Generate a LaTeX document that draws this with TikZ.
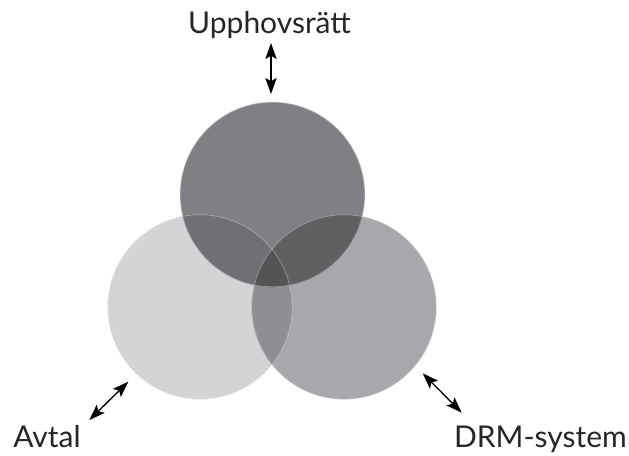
\documentclass[tikz,border=0pt]{standalone}
\usepackage{fontspec}
\setmainfont{Lato}
\usepackage{tikz}
\usetikzlibrary{arrows.meta}
\definecolor{vennTop}{HTML}{7F8083}
\definecolor{vennLeft}{HTML}{D3D4D6}
\definecolor{vennRight}{HTML}{A7A8AB}
\definecolor{vennTL}{HTML}{6F7073}
\definecolor{vennTR}{HTML}{5F6062}
\definecolor{vennLR}{HTML}{8E8F92}
\definecolor{vennAll}{HTML}{535456}

\begin{document}
\begin{tikzpicture}[x=0.75pt,y=-0.75pt,
    venn/.style={circle, minimum size=138.75pt, inner sep=0pt, outer sep=0pt},
    rim/.style={draw=white, draw opacity=0.35, line width=0.6pt},
    label/.style={font=\fontsize{22.5}{25}\selectfont, text=black!85, inner sep=0pt, anchor=base},
    dbl/.style={{Stealth[length=12pt,width=8.5pt,inset=2.5pt]}-{Stealth[length=12pt,width=8.5pt,inset=2.5pt]}, line width=1pt}]
    \useasboundingbox (0,0) rectangle (629,455);

    % The three sets
    \node[venn, fill=vennLeft] (avtal) at (200,307) {};
    \node[venn, fill=vennRight] (drm) at (344,307) {};
    \node[venn, fill=vennTop] (upph) at (272.5,194.5) {};

    % Overlaps
    \begin{scope}
        \clip (avtal.center) circle[radius=69.4pt];
        \fill[vennLR] (drm.center) circle[radius=69.4pt];
        \fill[vennTL] (upph.center) circle[radius=69.4pt];
    \end{scope}
    \begin{scope}
        \clip (drm.center) circle[radius=69.4pt];
        \fill[vennTR] (upph.center) circle[radius=69.4pt];
    \end{scope}
    \begin{scope}
        \clip (avtal.center) circle[radius=69.4pt];
        \clip (drm.center) circle[radius=69.4pt];
        \fill[vennAll] (upph.center) circle[radius=69.4pt];
    \end{scope}

    % Faint rims
    \foreach \c in {avtal,drm,upph}
        \draw[rim] (\c.center) circle[radius=69.2pt];

    % Labels
    \node[label] (tUpph) at (269.5,33.3) {Upphovsrätt};
    \node[label, anchor=base west] (tAvtal) at (13,447.3) {Avtal};
    \node[label, anchor=base east] (tDrm) at (627,447.3) {DRM-system};

    % Arrow ends
    \coordinate (u1) at (271,43);
    \coordinate (u2) at (271,94);
    \coordinate (a1) at (89.3,420);
    \coordinate (a2) at (128.3,381.7);
    \coordinate (d1) at (422.7,373.3);
    \coordinate (d2) at (461.7,412.7);

    \draw[dbl] (u1) -- (u2);
    \draw[dbl] (a1) -- (a2);
    \draw[dbl] (d1) -- (d2);
\end{tikzpicture}
\end{document}
